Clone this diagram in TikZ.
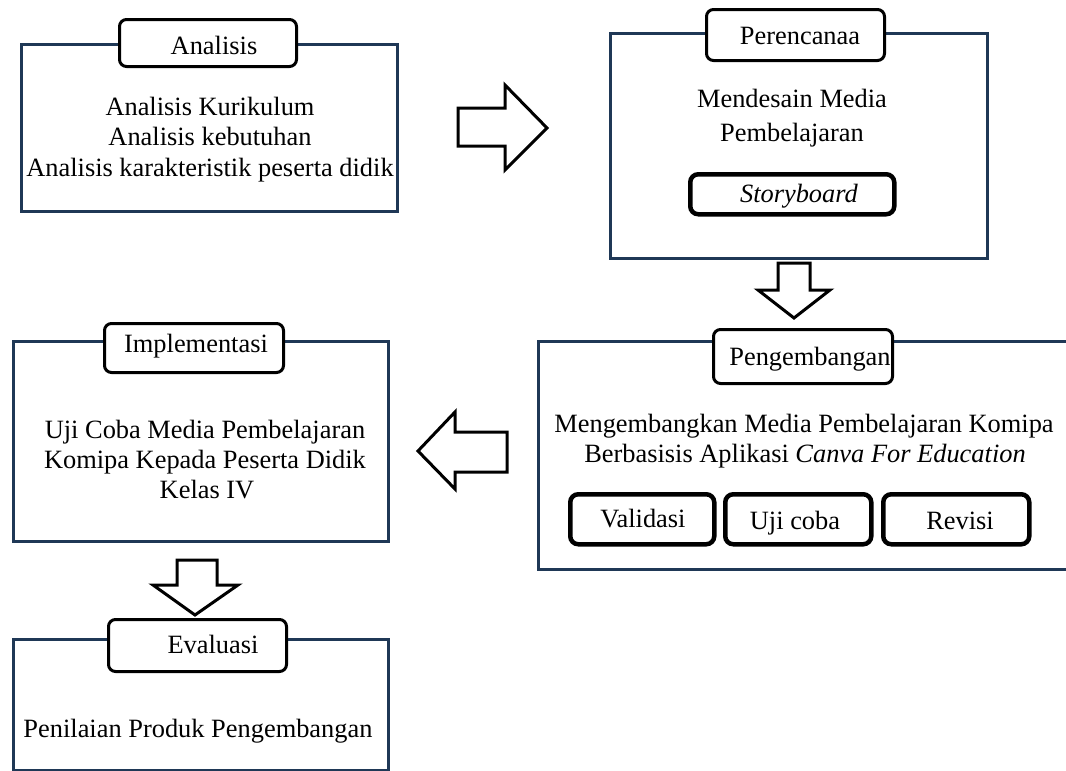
\documentclass[tikz,border=0pt]{standalone}
\usepackage{fontspec}
\setmainfont{Liberation Serif}
\definecolor{navy}{RGB}{31,56,86}
\begin{document}
\begin{tikzpicture}[x=1pt,y=-1pt,
  outerbox/.style={draw=navy, line width=3pt, inner sep=0pt, anchor=north west},
  tagbox/.style={draw=black, line width=3pt, rounded corners=7pt, fill=white, inner sep=0pt, anchor=north west},
  subbox/.style={draw=black, line width=4.5pt, rounded corners=8pt, inner sep=0pt, anchor=north west},
  blockarrow/.style={draw=black, line width=3pt, fill=white, line join=miter},
  txt/.style={font=\fontsize{26.4}{30.5}\selectfont, inner sep=0pt, anchor=base}]
\useasboundingbox (0,0) rectangle (1066,771);
\clip (0,0) rectangle (1066,771);
\fill[white] (0,0) rectangle (1066,771);

% ---------- Analisis ----------
\node[outerbox, minimum width=376pt, minimum height=167pt] (b1) at (20,43) {};
\node[tagbox, minimum width=177pt, minimum height=47pt] (t1) at (118,18) {};
\node[txt] (t1x) at (214,54) {Analisis};
\node[txt] (b1l1) at (210,115) {Analisis Kurikulum};
\node[txt] (b1l2) at (210,145) {Analisis kebutuhan};
\node[txt] (b1l3) at (210,176) {Analisis karakteristik peserta didik};

% ---------- Perencanaa ----------
\node[outerbox, minimum width=377pt, minimum height=225pt] (b2) at (609,32) {};
\node[tagbox, minimum width=178pt, minimum height=51pt] (t2) at (705,8) {};
\node[txt] (t2x) at (800,44) {Perencanaa};
\node[txt] (b2l1) at (792,107) {Mendesain Media};
\node[txt] (b2l2) at (792,141) {Pembelajaran};
\node[subbox, minimum width=204pt, minimum height=40pt] (sb) at (688,172) {};
\node[txt] (sbx) at (799,202) {\textit{Storyboard}};

% ---------- Pengembangan ----------
\node[outerbox, minimum width=540pt, minimum height=228pt] (b3) at (537,340) {};
\node[tagbox, minimum width=179pt, minimum height=54pt] (t3) at (712,328) {};
\node[txt] (t3x) at (810,365) {Pengembangan};
\node[txt] (b3l1) at (804,432) {Mengembangkan Media Pembelajaran Komipa};
\node[txt] (b3l2) at (805,462) {Berbasisis Aplikasi \textit{Canva For Education}};
\node[subbox, minimum width=144pt, minimum height=50pt] (v1) at (568,492) {};
\node[txt] (v1x) at (643,527) {Validasi};
\node[subbox, minimum width=146pt, minimum height=50pt] (v2) at (723,492) {};
\node[txt] (v2x) at (795,529) {Uji coba};
\node[subbox, minimum width=146pt, minimum height=50pt] (v3) at (881,492) {};
\node[txt] (v3x) at (960,529) {Revisi};

% ---------- Implementasi ----------
\node[outerbox, minimum width=375pt, minimum height=200pt] (b4) at (12,340) {};
\node[tagbox, minimum width=179pt, minimum height=49pt] (t4) at (103,322) {};
\node[txt] (t4x) at (196,352) {Implementasi};
\node[txt] (b4l1) at (205,438) {Uji Coba Media Pembelajaran};
\node[txt] (b4l2) at (205,468) {Komipa Kepada Peserta Didik};
\node[txt] (b4l3) at (207,498) {Kelas IV};

% ---------- Evaluasi ----------
\node[outerbox, minimum width=375pt, minimum height=131pt] (b5) at (12,638) {};
\node[tagbox, minimum width=178pt, minimum height=52pt] (t5) at (107,618) {};
\node[txt] (t5x) at (213,653) {Evaluasi};
\node[txt] (b5l1) at (198,737) {Penilaian Produk Pengembangan};

% ---------- block arrows ----------
\draw[blockarrow] (458,108) -- (505,108) -- (505,85) -- (547,128) -- (505,170) -- (505,146) -- (458,146) -- cycle;
\draw[blockarrow] (778,263) -- (810,263) -- (810,290) -- (830,290) -- (794,318) -- (758,290) -- (778,290) -- cycle;
\draw[blockarrow] (507,432) -- (455,432) -- (455,412) -- (418,451) -- (455,489) -- (455,472) -- (507,472) -- cycle;
\draw[blockarrow] (177,560) -- (217,560) -- (217,585) -- (238,585) -- (195,615) -- (153,585) -- (177,585) -- cycle;
\end{tikzpicture}
\end{document}
